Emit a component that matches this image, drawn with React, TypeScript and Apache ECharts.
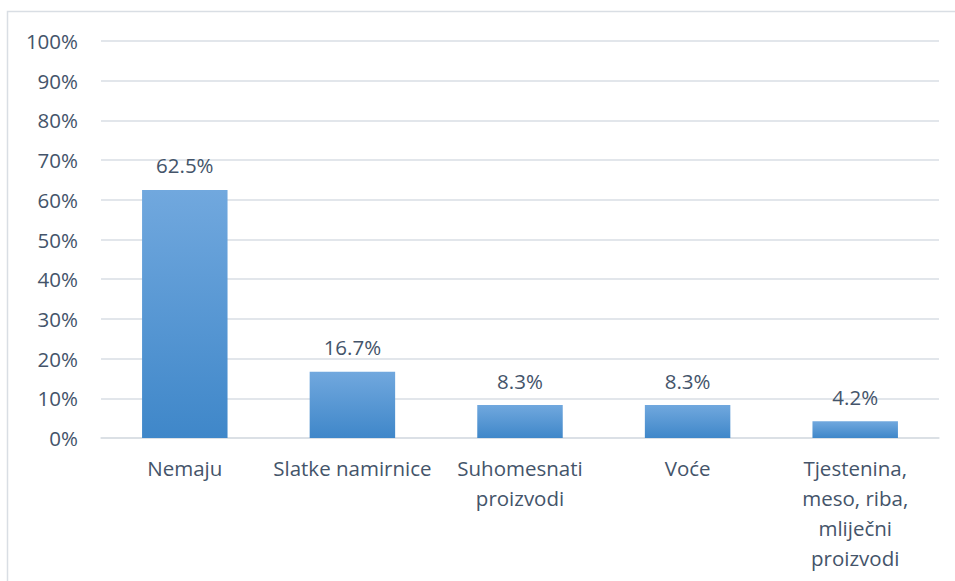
import React, { useEffect, useRef } from "react";
import * as echarts from "echarts";

const categories = ["Nemaju", "Slatke namirnice", "Suhomesnati\nproizvodi", "Voće", "Tjestenina,\nmeso, riba,\nmliječni\nproizvodi"];
const values = [62.5, 16.7, 8.3, 8.3, 4.2];
const yTicks = [0, 10, 20, 30, 40, 50, 60, 70, 80, 90, 100];

const FONT = "'Open Sans', sans-serif";
const TEXT = "#44546A";
const FS = 20.5;

export default function App() {
  const ref = useRef<HTMLDivElement>(null);
  useEffect(() => {
    if (!ref.current) return;
    const chart = echarts.init(ref.current, undefined, { renderer: "svg" });
    chart.setOption({
      animation: false,
      backgroundColor: "#fff",
      graphic: [
        {
          type: "rect",
          shape: { x: 7.5, y: 11.5, width: 960, height: 600 },
          style: { fill: "none", stroke: "#D9DEE4", lineWidth: 1.5 },
          silent: true,
        },
      ],
      grid: { left: 101, right: 16, top: 41, bottom: 143, containLabel: false },
      xAxis: {
        type: "category",
        data: categories,
        axisLine: { show: true, lineStyle: { color: "#D9DEE4", width: 1.5 } },
        axisTick: { show: false },
        axisLabel: {
          interval: 0,
          color: TEXT,
          fontFamily: FONT,
          fontSize: FS,
          lineHeight: 30,
          margin: 15,
        },
      },
      yAxis: {
        type: "value",
        min: 0,
        max: 100,
        interval: 10,
        axisLine: { show: false },
        axisTick: { show: false },
        splitLine: { lineStyle: { color: "#D9DEE4", width: 1.5 } },
        axisLabel: {
          color: TEXT,
          fontFamily: FONT,
          fontSize: FS,
          margin: 23,
          formatter: (v: number) => (yTicks.includes(v) ? v + "%" : ""),
        },
      },
      series: [
        {
          type: "bar",
          data: values,
          barWidth: "51%",
          itemStyle: {
            color: new echarts.graphic.LinearGradient(0, 0, 0, 1, [
              { offset: 0, color: "#71A8DE" },
              { offset: 1, color: "#3F87C9" },
            ]),
          },
          label: {
            show: true,
            position: "top",
            distance: 14,
            color: TEXT,
            fontFamily: FONT,
            fontSize: FS,
            formatter: (p: any) => p.value.toFixed(1) + "%",
          },
        },
      ],
    });
    return () => chart.dispose();
  }, []);
  return (
    <div
      ref={ref}
      style={{ position: "fixed", left: 0, top: 0, width: 955, height: 581 }}
    />
  );
}
